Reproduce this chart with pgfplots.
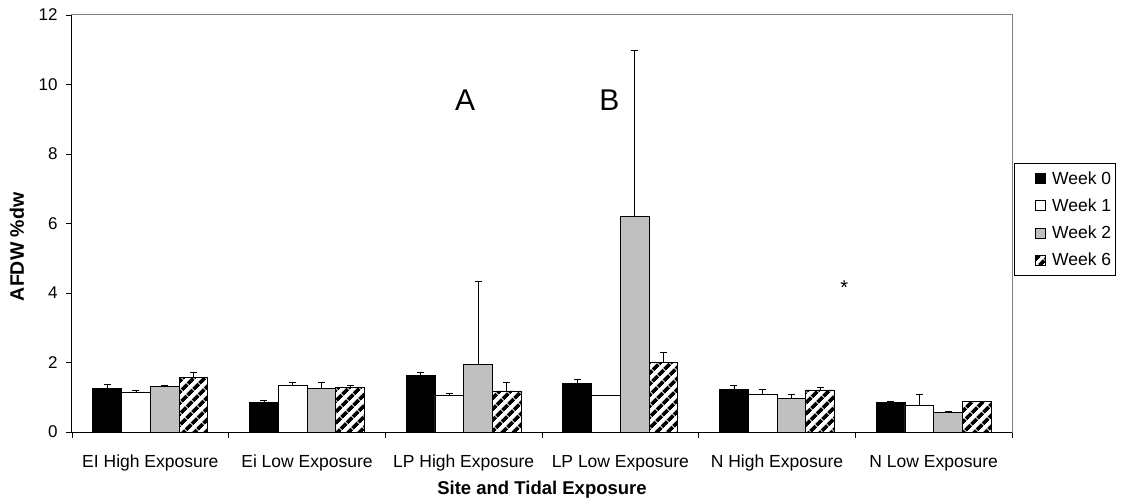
\documentclass[border=0pt]{standalone}
\usepackage{fontspec}
\setmainfont{Liberation Sans}
\usepackage{pgfplots}
\usepackage{pgfplotstable}
\pgfplotsset{compat=1.18}
\usetikzlibrary{patterns.meta}
\definecolor{silverfill}{HTML}{C0C0C0}
\definecolor{framegray}{HTML}{808080}
\tikzdeclarepattern{
  name=thickhatch,
  type=uncolored,
  bounding box={(0bp,0bp) and (8bp,8bp)},
  tile size={(8bp,8bp)},
  tile transformation={rotate=45},
  code={\fill (0bp,0bp) rectangle (8bp,4bp);}
}
\pgfplotstableread{
x w0 e0 w1 e1 w2 e2 w6 e6
0 1.26 0.11 1.13 0.08 1.30 0.04 1.56 0.15
1 0.86 0.04 1.34 0.08 1.26 0.16 1.27 0.07
2 1.63 0.08 1.06 0.04 1.95 2.38 1.18 0.24
3 1.39 0.11 1.05 0.01 6.19 4.80 1.99 0.31
4 1.22 0.11 1.08 0.16 0.96 0.12 1.21 0.08
5 0.85 0.04 0.77 0.32 0.56 0.04 0.89 0.00
}\data
\begin{document}
\begin{tikzpicture}
\begin{axis}[
  scale only axis, width=940bp, height=417bp,
  clip=false,
  ybar=0pt, bar width=28.7bp,
  xmin=-0.5, xmax=5.5, ymin=0, ymax=12,
  xtick={0,...,5},
  xticklabels={EI High Exposure, Ei Low Exposure, LP High Exposure, LP Low Exposure, N High Exposure, N Low Exposure},
  ytick={0,2,...,12},
  minor xtick={-0.5,0.5,1.5,2.5,3.5,4.5,5.5},
  tick pos=left, tick align=outside,
  major tick length=6bp, minor tick length=6bp,
  major x tick style={draw=none},
  every tick/.style={black, line width=0.8bp},
  minor tick style={black, line width=0.8bp},
  axis line style={draw=framegray, line width=1bp},
  /pgf/number format/assume math mode=true,
  yticklabel style={font=\fontsize{17bp}{20bp}\selectfont, xshift=-5bp},
  xticklabel style={font=\fontsize{17.5bp}{21bp}\selectfont, anchor=center, yshift=-25bp},
  xlabel={Site and Tidal Exposure},
  ylabel={AFDW \%dw},
  xlabel style={font=\bfseries\fontsize{18.5bp}{22bp}\selectfont, at={(0.5,-0.139)}, anchor=center},
  ylabel style={font=\bfseries\fontsize{19.5bp}{23bp}\selectfont, at={(-0.0585,0.444)}, anchor=center},
  legend style={at={(1.002,0.645)}, anchor=north west, draw=black, line width=0.9bp,
    font=\fontsize{17.5bp}{21bp}\selectfont, row sep=9bp, inner xsep=2bp, inner ysep=6bp,
    cells={anchor=west}},
  legend image code/.code={\path (0bp,0bp) (33bp,0bp); \draw[#1, line width=0.7bp] (19bp,-5bp) rectangle (29bp,5bp);},
  error bars/error bar style={black, line width=0.8bp},
  error bars/error mark options={rotate=90, mark size=3.5bp, black, line width=0.8bp},
]
\addplot[draw=black, fill=black, line width=0.9bp,
  error bars/.cd, y dir=plus, y explicit] table[x=x, y=w0, y error=e0] {\data};
\addlegendentry{Week 0}
\addplot[draw=black, fill=white, line width=0.9bp,
  error bars/.cd, y dir=plus, y explicit] table[x=x, y=w1, y error=e1] {\data};
\addlegendentry{Week 1}
\addplot[draw=black, fill=silverfill, line width=0.9bp,
  error bars/.cd, y dir=plus, y explicit] table[x=x, y=w2, y error=e2] {\data};
\addlegendentry{Week 2}
\addplot[draw=black, fill=white, line width=0.9bp, postaction={pattern=thickhatch, pattern color=black},
  error bars/.cd, y dir=plus, y explicit] table[x=x, y=w6, y error=e6] {\data};
\addlegendentry{Week 6}
\draw[black, line width=1bp] (rel axis cs:0,1) -- (rel axis cs:0,0) -- (rel axis cs:1,0);
\node[font=\fontsize{30bp}{36bp}\selectfont] at (axis cs:2.01,9.55) {A};
\node[font=\fontsize{30bp}{36bp}\selectfont] at (axis cs:2.93,9.55) {B};
\node[font=\fontsize{20bp}{24bp}\selectfont] at (axis cs:4.43,4.15) {*};
\coordinate (O) at (rel axis cs:0,0);
\end{axis}
\pgfresetboundingbox
\path (O) ++(-72bp,-72bp) rectangle ++(1122bp,504bp);
\end{tikzpicture}
\end{document}
